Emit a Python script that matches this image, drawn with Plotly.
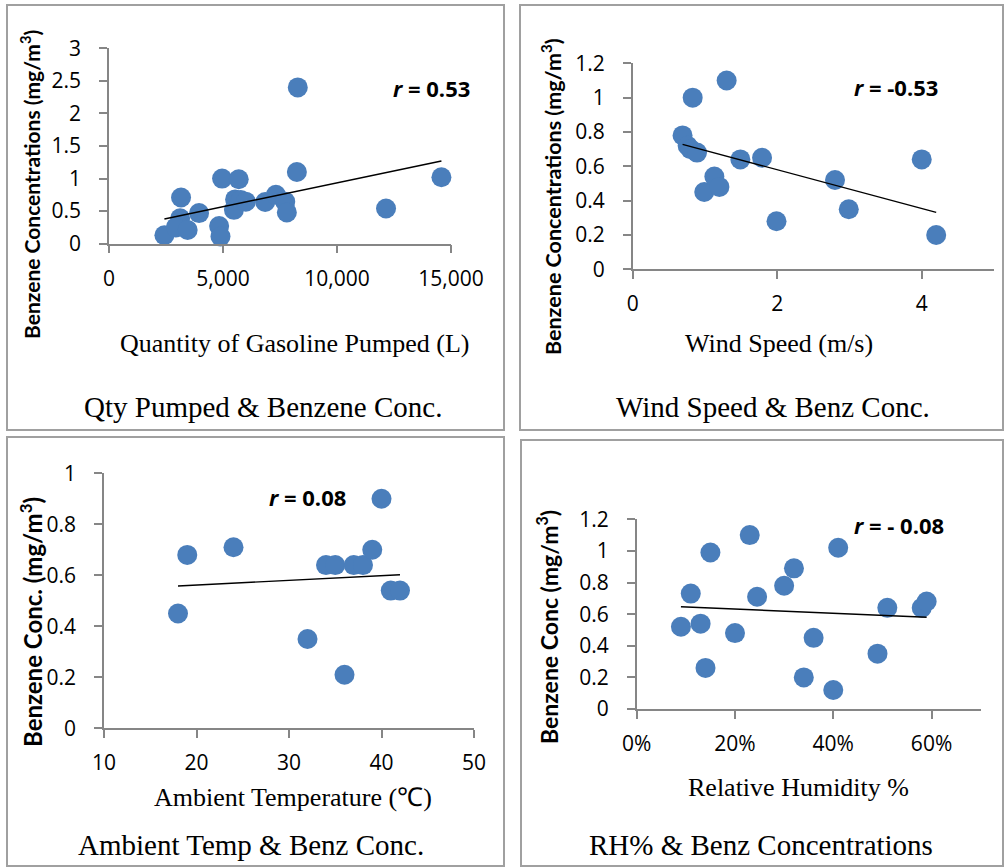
import plotly.graph_objects as go

# ---------------- data ----------------
qty_pumped = [2430, 3160, 3120, 2930, 3450, 3950, 4830, 4890, 4960, 5690, 5530, 5480,
              5780, 6000, 6850, 7320, 7730, 7800, 8240, 8280, 12150, 14580]
qty_benz = [0.13, 0.71, 0.39, 0.25, 0.21, 0.47, 0.27, 0.11, 1.00, 0.99, 0.68, 0.52,
            0.67, 0.645, 0.64, 0.75, 0.645, 0.48, 1.10, 2.40, 0.54, 1.02]
qty_trend_x = [2430, 14580]
qty_trend_y = [0.38, 1.27]

wind_speed = [0.69, 0.76, 0.83, 0.80, 0.89, 0.99, 1.13, 1.20, 1.30, 1.49, 1.79, 1.99,
              2.80, 2.99, 4.00, 4.20]
wind_benz = [0.78, 0.72, 1.00, 0.70, 0.68, 0.45, 0.54, 0.48, 1.10, 0.64, 0.65, 0.28,
             0.52, 0.35, 0.64, 0.20]
wind_trend_x = [0.69, 4.20]
wind_trend_y = [0.728, 0.332]

temp = [18, 19, 24, 32, 34, 35, 36, 37, 38, 39, 40, 41, 42]
temp_benz = [0.45, 0.68, 0.71, 0.35, 0.64, 0.64, 0.21, 0.64, 0.64, 0.70, 0.90, 0.54, 0.54]
temp_trend_x = [18, 42]
temp_trend_y = [0.558, 0.602]

rh = [0.09, 0.11, 0.13, 0.14, 0.15, 0.20, 0.23, 0.245, 0.30, 0.32, 0.34, 0.36, 0.40,
      0.41, 0.49, 0.51, 0.58, 0.59]
rh_benz = [0.52, 0.73, 0.54, 0.26, 0.99, 0.48, 1.10, 0.71, 0.78, 0.89, 0.20, 0.45, 0.12,
           1.02, 0.35, 0.64, 0.64, 0.68]
rh_trend_x = [0.09, 0.59]
rh_trend_y = [0.647, 0.580]

W, H = 1007, 867
BLUE = "rgb(74,126,187)"
AXIS = "rgb(134,134,134)"
TICKFONT = dict(family="Open Sans", size=21, color="black")


def px(x):
    return x / W


def py(y):
    return 1 - y / H


fig = go.Figure()

panels = [
    (qty_pumped, qty_benz, qty_trend_x, qty_trend_y, "x", "y"),
    (wind_speed, wind_benz, wind_trend_x, wind_trend_y, "x2", "y2"),
    (temp, temp_benz, temp_trend_x, temp_trend_y, "x3", "y3"),
    (rh, rh_benz, rh_trend_x, rh_trend_y, "x4", "y4"),
]
for xs, ys, tx, ty, xa, ya in panels:
    fig.add_trace(go.Scatter(x=xs, y=ys, mode="markers", xaxis=xa, yaxis=ya,
                             marker=dict(size=20, color=BLUE, line=dict(width=0)),
                             cliponaxis=False, showlegend=False, hoverinfo="skip"))
    fig.add_trace(go.Scatter(x=tx, y=ty, mode="lines", xaxis=xa, yaxis=ya,
                             line=dict(color="black", width=1.4),
                             cliponaxis=False, showlegend=False, hoverinfo="skip"))


def ax(domain, rng, dtick, fmt=None, anchor=None, standoff=8):
    d = dict(domain=domain, range=rng, dtick=dtick, tick0=rng[0],
             showgrid=False, zeroline=False, showline=True, linecolor=AXIS, linewidth=1.5,
             ticks="outside", ticklen=8, tickwidth=1.5, tickcolor=AXIS,
             tickfont=TICKFONT, anchor=anchor, ticklabelstandoff=standoff,
             automargin=False, fixedrange=True)
    if fmt:
        d["tickformat"] = fmt
    return d


fig.update_layout(
    width=W, height=H, autosize=False,
    margin=dict(l=0, r=0, t=0, b=0, pad=0, autoexpand=False),
    paper_bgcolor="white", plot_bgcolor="white",
    xaxis=ax([px(109), px(451)], [0, 15000], 5000, ",", "y", 7),
    yaxis=ax([py(243.7), py(48.3)], [0, 3], 0.5, None, "x", 14),
    xaxis2=ax([px(632.7), px(994)], [0, 5], 2, None, "y2", 7),
    yaxis2=ax([py(269.3), py(63.3)], [0, 1.2], 0.2, None, "x2", 14),
    xaxis3=ax([px(104), px(474)], [10, 50], 10, None, "y3", 7),
    yaxis3=ax([py(728.3), py(473.3)], [0, 1], 0.2, None, "x3", 14),
    xaxis4=ax([px(636.7), px(980.7)], [0, 0.7], 0.2, ".0%", "y4", 7),
    yaxis4=ax([py(709), py(519.3)], [0, 1.2], 0.2, None, "x4", 14),
)

# panel frames
BORDER = "rgb(160,160,160)"
for x0, y0, x1, y1 in [(7, 5, 504, 430), (520, 5, 1003, 430), (7, 437, 504, 866), (521, 440, 1003, 866)]:
    fig.add_shape(type="rect", xref="paper", yref="paper",
                  x0=px(x0), x1=px(x1), y0=py(y1), y1=py(y0),
                  line=dict(color=BORDER, width=2), fillcolor="rgba(0,0,0,0)")

SERIF = "Liberation Serif"
texts = [
    # y-axis titles (rotated)
    ("<b>Benzene Concentrations (mg/m<sup>3</sup>)</b>", 30, 185, dict(family="Lato", size=21), -90),
    ("<b>Benzene Concentrations (mg/m<sup>3</sup>)</b>", 551, 197, dict(family="Lato", size=21.5), -90),
    ("<b>Benzene Conc. (mg/m<sup>3</sup>)</b>", 31, 622, dict(family="Lato", size=24), -90),
    ("<b>Benzene Conc (mg/m<sup>3</sup>)</b>", 547, 627, dict(family="Lato", size=23), -90),
    # x-axis titles
    ("Quantity of Gasoline Pumped (L)", 295, 343, dict(family=SERIF, size=26), 0),
    ("Wind Speed (m/s)", 779, 343, dict(family=SERIF, size=26), 0),
    ("Ambient Temperature (℃)", 293, 797, dict(family=SERIF, size=26), 0),
    ("Relative Humidity %", 798, 787, dict(family=SERIF, size=26), 0),
    # chart titles
    ("Qty Pumped &amp; Benzene Conc.", 263, 407, dict(family=SERIF, size=29), 0),
    ("Wind Speed &amp; Benz Conc.", 773, 407, dict(family=SERIF, size=29), 0),
    ("Ambient Temp &amp; Benz Conc.", 251, 845, dict(family=SERIF, size=29), 0),
    ("RH% &amp; Benz Concentrations", 761, 845, dict(family=SERIF, size=29), 0),
    # correlation labels
    ("<b><i>r</i> = 0.53</b>", 431, 88, dict(family="Open Sans", size=22), 0),
    ("<b><i>r</i> = -0.53</b>", 896, 87, dict(family="Open Sans", size=22), 0),
    ("<b><i>r</i> = 0.08</b>", 307, 497, dict(family="Open Sans", size=22), 0),
    ("<b><i>r</i> = - 0.08</b>", 899, 525, dict(family="Open Sans", size=22), 0),
]
for txt, x, y, font, ang in texts:
    font = dict(font, color="black")
    fig.add_annotation(text=txt, xref="paper", yref="paper", x=px(x), y=py(y),
                       xanchor="center", yanchor="middle", showarrow=False,
                       textangle=ang, font=font)

fig.write_html("out.html")
